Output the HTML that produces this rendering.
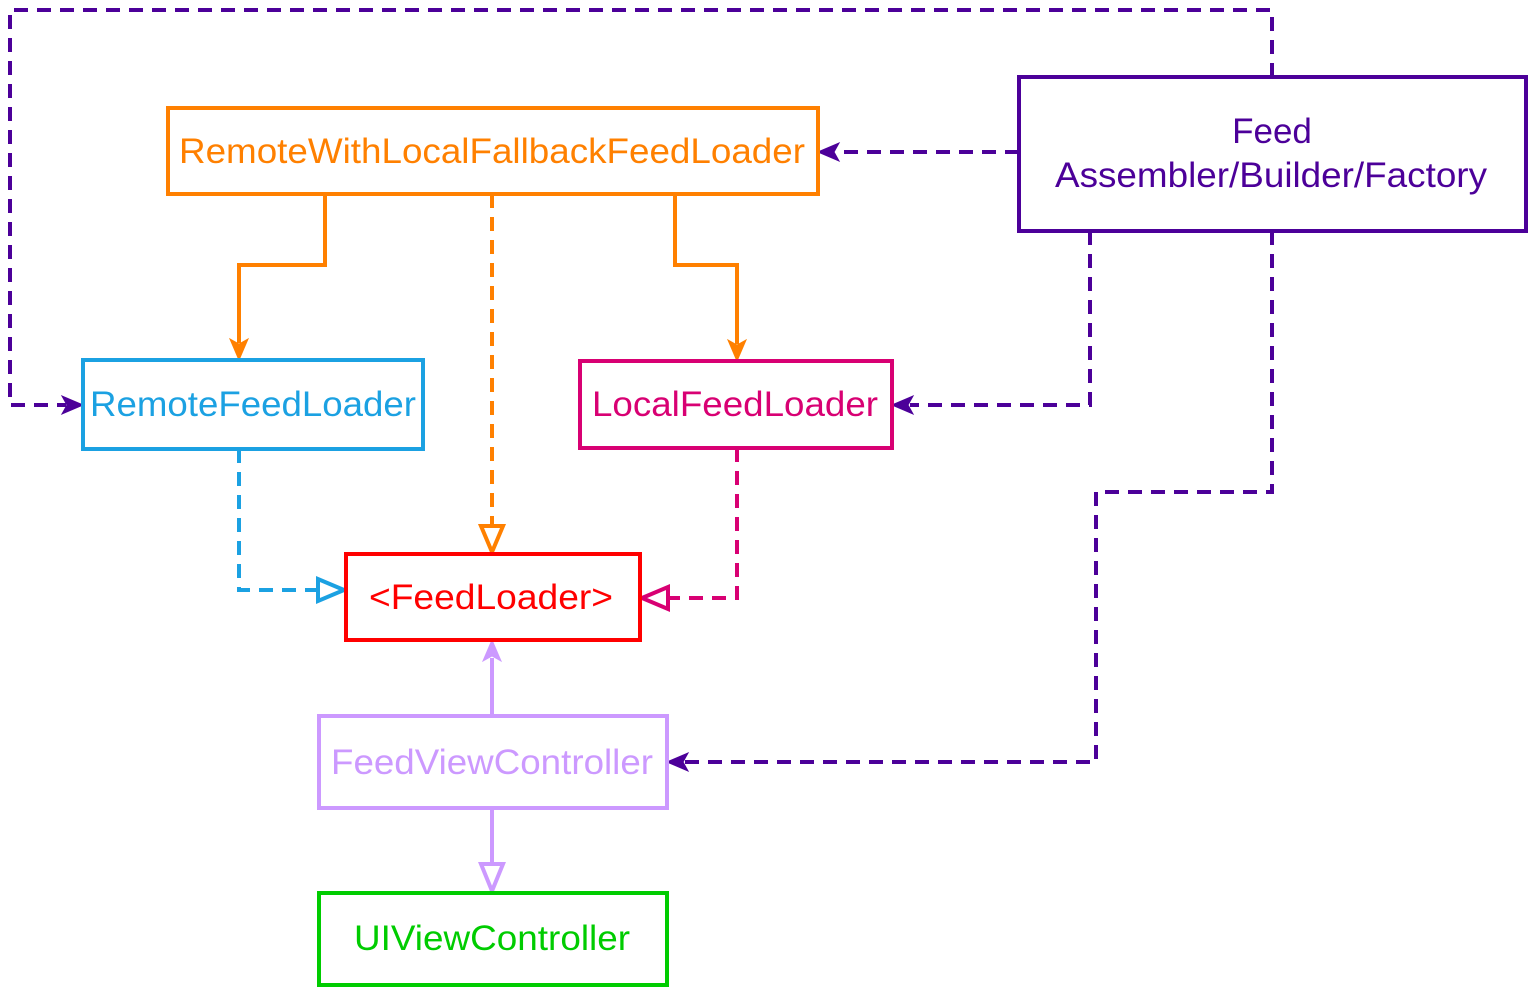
<!DOCTYPE html>
<html><head><meta charset="utf-8"><style>html,body{margin:0;padding:0;background:#fff}svg{display:block}</style></head>
<body>
<svg width="1528" height="987" viewBox="0 0 1528 987" xmlns="http://www.w3.org/2000/svg" font-family="Liberation Sans, Arial, sans-serif" font-size="35">
<g fill="none" stroke-width="4">
<g stroke="#4C0099" stroke-dasharray="14 9">
<path d="M1272 77 V10 H10 V405 H66"/>
<path d="M1019 152 H836"/>
<path d="M1090 231 V405 H910"/>
<path d="M1272 231 V492 H1096 V762 H685"/>
</g>
<path stroke="#FF8000" d="M325 194 V265 H239 V343"/>
<path stroke="#FF8000" d="M675 194 V265 H737 V344"/>
<path stroke="#FF8000" stroke-dasharray="14 9" d="M492 194 V524"/>
<path stroke="#1BA1E2" stroke-dasharray="14 9" d="M239 449 V590 H318"/>
<path stroke="#D80073" stroke-dasharray="14 9" d="M737 448 V598 H668"/>
<path stroke="#CC99FF" d="M492 716 V658"/>
<path stroke="#CC99FF" d="M492 808 V862"/>
</g>
<g stroke-width="1">
<path fill="#4C0099" stroke="#4C0099" d="M83 405 L62 396 L67 405 L62 414 Z"/>
<path fill="#4C0099" stroke="#4C0099" d="M818 152 L839 143 L834 152 L839 161 Z"/>
<path fill="#4C0099" stroke="#4C0099" d="M892 405 L913 396 L908 405 L913 414 Z"/>
<path fill="#4C0099" stroke="#4C0099" d="M667 762 L688 753 L683 762 L688 771 Z"/>
<path fill="#FF8000" stroke="#FF8000" d="M239 360 L230 339 L239 344 L248 339 Z"/>
<path fill="#FF8000" stroke="#FF8000" d="M737 361 L728 340 L737 345 L746 340 Z"/>
<path fill="#CC99FF" stroke="#CC99FF" d="M492 640 L483 661 L492 656 L501 661 Z"/>
</g>
<g fill="#fff" stroke-width="4">
<path stroke="#FF8000" d="M492 552 L481 526 L503 526 Z"/>
<path stroke="#1BA1E2" d="M344 590 L318 579 L318 601 Z"/>
<path stroke="#D80073" d="M642 598 L668 587 L668 609 Z"/>
<path stroke="#CC99FF" d="M492 891 L481 864 L503 864 Z"/>
</g>
<g fill="#fff" stroke-width="4">
<rect x="1019" y="77" width="507" height="154" stroke="#4C0099"/>
<rect x="168" y="108" width="650" height="86" stroke="#FF8000"/>
<rect x="83" y="360" width="340" height="89" stroke="#1BA1E2"/>
<rect x="580" y="361" width="312" height="87" stroke="#D80073"/>
<rect x="346" y="554" width="294" height="86" stroke="#FF0000"/>
<rect x="319" y="716" width="348" height="92" stroke="#CC99FF"/>
<rect x="319" y="893" width="348" height="92" stroke="#00CC00"/>
</g>
<g text-anchor="middle">
<text x="1272" y="143" fill="#4C0099">Feed</text>
<text x="1271" y="187" fill="#4C0099" textLength="432" lengthAdjust="spacingAndGlyphs">Assembler/Builder/Factory</text>
<text x="492" y="163" fill="#FF8000" textLength="626" lengthAdjust="spacingAndGlyphs">RemoteWithLocalFallbackFeedLoader</text>
<text x="253" y="416" fill="#1BA1E2" textLength="326" lengthAdjust="spacingAndGlyphs">RemoteFeedLoader</text>
<text x="735" y="416" fill="#D80073" textLength="286" lengthAdjust="spacingAndGlyphs">LocalFeedLoader</text>
<text x="491" y="609" fill="#FF0000" textLength="244" lengthAdjust="spacingAndGlyphs">&lt;FeedLoader&gt;</text>
<text x="492" y="774" fill="#CC99FF" textLength="322" lengthAdjust="spacingAndGlyphs">FeedViewController</text>
<text x="492" y="950" fill="#00CC00" textLength="276" lengthAdjust="spacingAndGlyphs">UIViewController</text>
</g>
</svg>
</body></html>
